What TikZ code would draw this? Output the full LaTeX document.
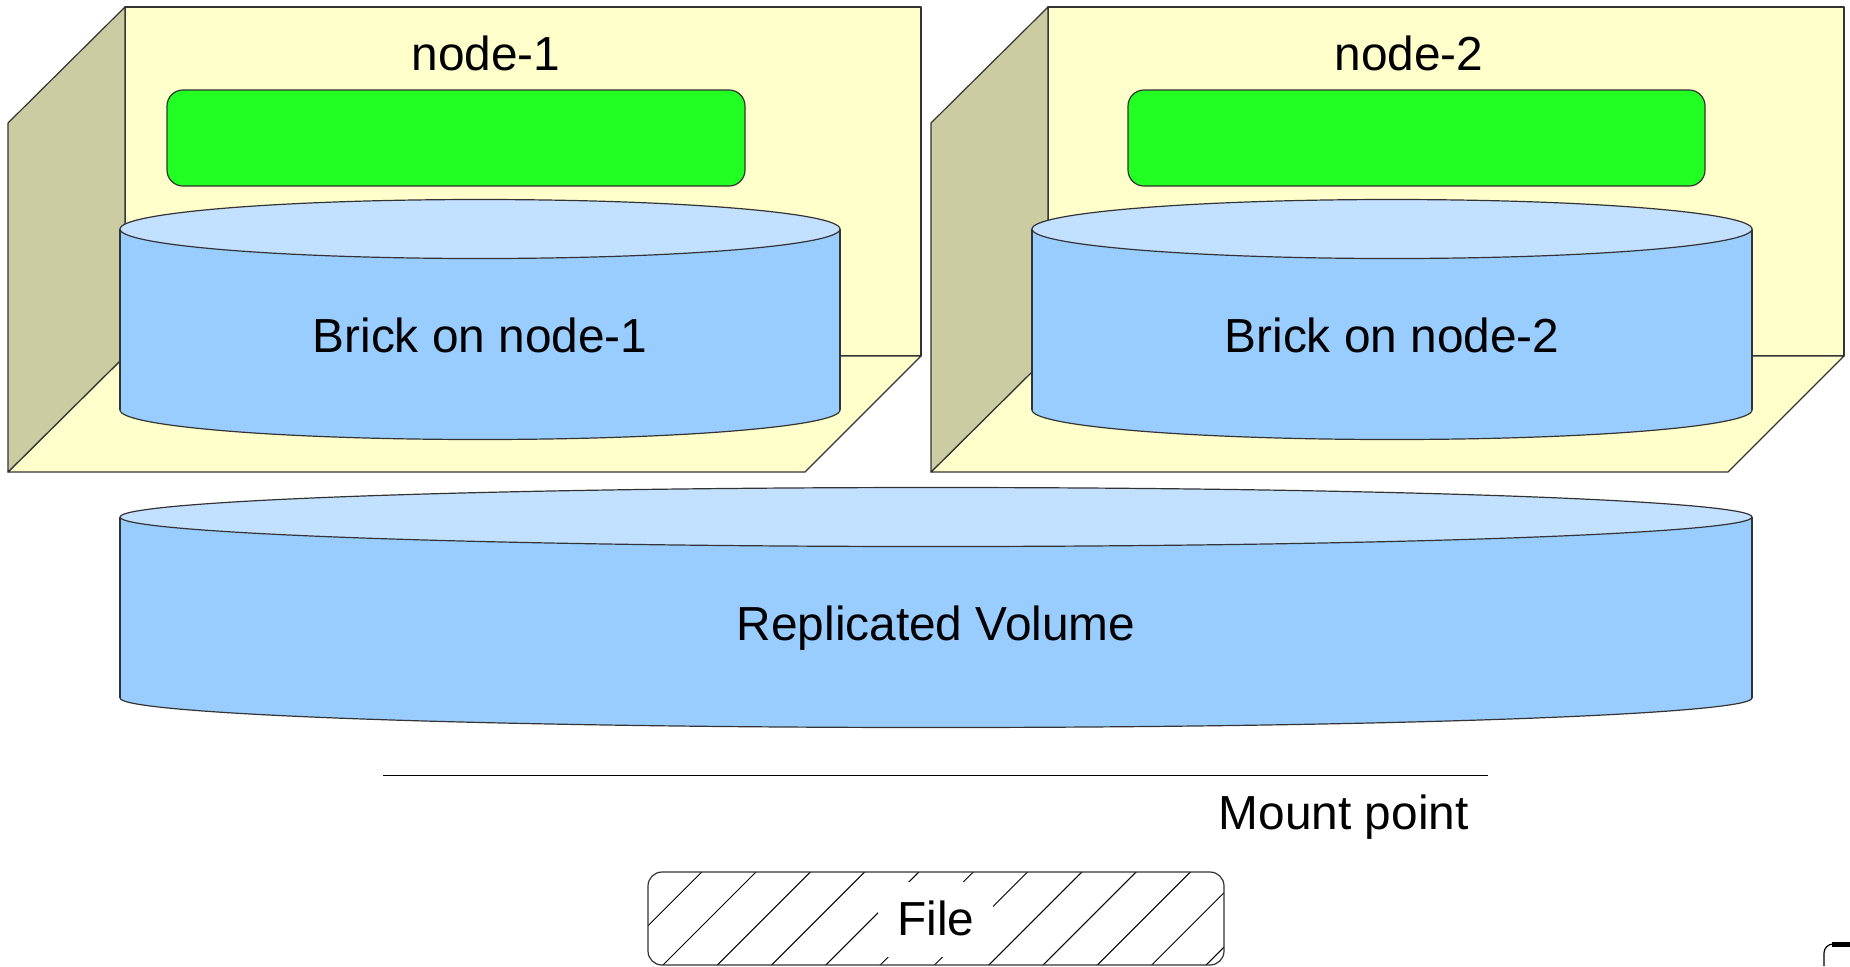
\documentclass[tikz,border=0pt]{standalone}
\usepackage{fontspec}
\setmainfont{Liberation Sans}
\definecolor{backc}{HTML}{FFFFCC}
\definecolor{wallc}{HTML}{CCCCA3}
\definecolor{greenc}{HTML}{22FF22}
\definecolor{sidec}{HTML}{99CCFF}
\definecolor{topc}{HTML}{C2E0FF}
\definecolor{edgec}{HTML}{333333}
\tikzset{
  edge/.style={draw=edgec, line width=0.6pt, line join=round},
  lbl/.style={inner sep=0pt, font=\fontsize{23.9}{28}\selectfont, anchor=base},
  greenbox/.style={edge, fill=greenc, rounded corners=8pt},
}
\newcommand\mycyl[7]{%
  \pgfmathsetmacro\cylcx{(#2+#3)/2}%
  \pgfmathsetmacro\cylrx{(#3-#2)/2}%
  \fill[sidec] (#2,#4) rectangle (#3,#5);
  \fill[sidec] (\cylcx,#5) ellipse ({\cylrx} and {#6});
  \begin{scope}
    \clip (#2-5,#5) rectangle (#3+5,#5+#6+5);
    \draw[edge] (\cylcx,#5) ellipse ({\cylrx} and {#6});
  \end{scope}
  \draw[edge] (#2,#4) -- (#2,#5) (#3,#4) -- (#3,#5);
  \draw[edge, fill=topc] (\cylcx,#4) ellipse ({\cylrx} and {#6});
}
\begin{document}
\begin{tikzpicture}[x=0.5pt, y=-0.5pt]
\useasboundingbox (0,0) rectangle (1850,966);
% ---- cube 1
\draw[edge, fill=backc] (125,7) rectangle (921,356);
\draw[edge, fill=backc] (8,472) -- (125,356) -- (921,356) -- (805,472) -- cycle;
\draw[edge, fill=wallc] (8,123) -- (125,7) -- (125,356) -- (8,472) -- cycle;
\node[lbl] (n1) at (486,70) {node-1};
\draw[greenbox] (167,90) rectangle (745,186);
\mycyl{b1}{120}{840}{229}{410}{29.5}{}
\node[lbl] (b1) at (480,352) {Brick on node-1};
% ---- cube 2
\draw[edge, fill=backc] (1048,7) rectangle (1844,356);
\draw[edge, fill=backc] (931,472) -- (1048,356) -- (1844,356) -- (1728,472) -- cycle;
\draw[edge, fill=wallc] (931,123) -- (1048,7) -- (1048,356) -- (931,472) -- cycle;
\node[lbl] (n2) at (1409,70) {node-2};
\draw[greenbox] (1128,90) rectangle (1705,186);
\mycyl{b2}{1032}{1752}{229}{410}{29.5}{}
\node[lbl] (b2) at (1392,352) {Brick on node-2};
% ---- replicated volume
\mycyl{rv}{120}{1752}{517}{698}{29.5}{}
\node[lbl] (rv) at (936,640) {Replicated Volume};
% ---- mount point
\coordinate (mpL) at (383,775);
\coordinate (mpR) at (1488,775);
\draw[draw=black, line width=0.5pt] (mpL) -- (mpR);
\node[lbl, anchor=base east] (mp) at (1469,829) {Mount point};
% ---- file
\begin{scope}
  \clip[rounded corners=7pt] (648,872) rectangle (1224,965);
  \foreach \i in {-2,...,12} {
    \pgfmathsetmacro\xz{701.7+54.3*\i}
    \draw[black, line width=0.5pt] ({\xz+22},850) -- ({\xz-118},990);
  }
  \fill[white] (878,882) rectangle (993,957);
\end{scope}
\draw[edge, rounded corners=7pt] (648,872) rectangle (1224,965);
\node[lbl] (file) at (936,935) {File};
% ---- partial shape at bottom right corner
\draw[black, line width=0.6pt] (1824,966) -- (1824,953) arc (180:270:9);
\draw[black, line width=2.5pt] (1832,944) -- (1852,944);
\end{tikzpicture}
\end{document}
